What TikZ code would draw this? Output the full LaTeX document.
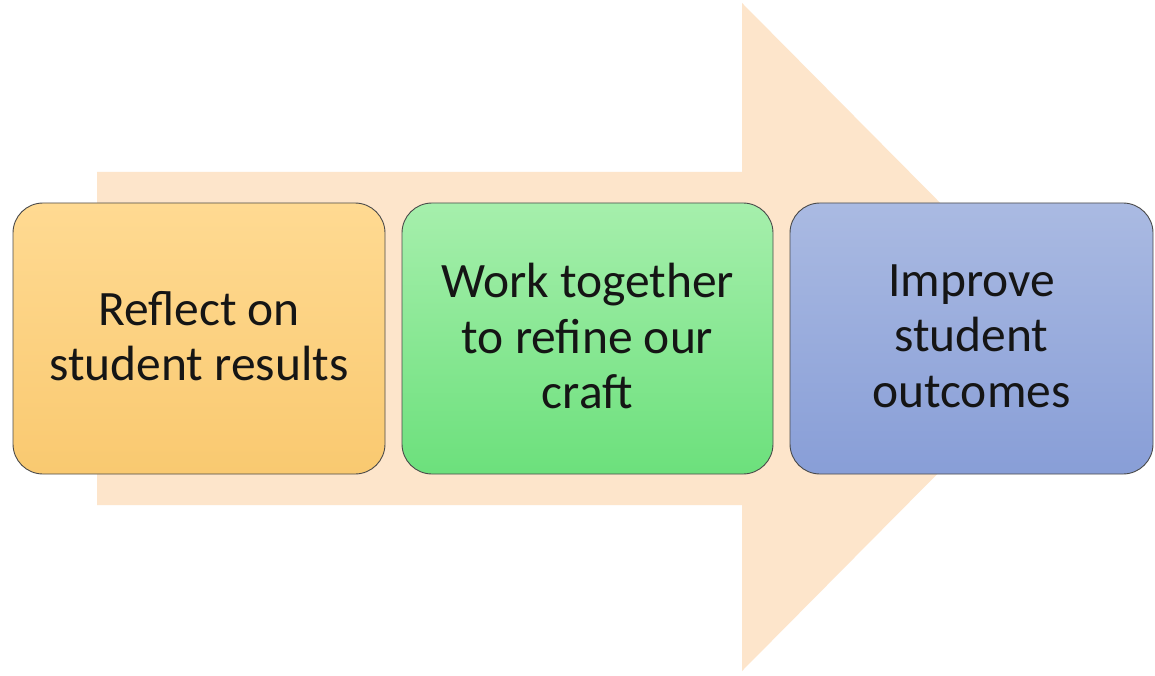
\documentclass[tikz,border=0pt]{standalone}
\usepackage{fontspec}
\setmainfont{Carlito}
\definecolor{arrowfill}{HTML}{FDE5CB}
\definecolor{orangetop}{HTML}{FFDA92}
\definecolor{orangebot}{HTML}{F9C970}
\definecolor{greentop}{HTML}{A6EFAC}
\definecolor{greenbot}{HTML}{6CE07C}
\definecolor{bluetop}{HTML}{AABAE2}
\definecolor{bluebot}{HTML}{889ED7}
\definecolor{edgegray}{HTML}{4A4A4A}
\definecolor{txt}{HTML}{151515}
\newcommand{\lowfix}{\rule[-5pt]{0pt}{5pt}}
\tikzset{
  stagebox/.style={draw=edgegray, line width=0.9pt, rounded corners=30pt,
    inner sep=0pt, align=center, text=txt,
    font=\fontsize{49.5}{55.5}\selectfont},
  bigarrow/.style={fill=arrowfill, draw=none}
}
\begin{document}
\begin{tikzpicture}[x=1pt,y=-1pt]
\useasboundingbox (0,0) rectangle (1155,676);
\fill[white] (0,0) rectangle (1155,676);
% big background arrow
\coordinate (a1) at (97,172);
\coordinate (a2) at (742,172);
\coordinate (a3) at (742,3);
\coordinate (tip) at (1073,337);
\coordinate (a4) at (742,671);
\coordinate (a5) at (742,505);
\coordinate (a6) at (97,505);
\path[bigarrow] (a1) -- (a2) -- (a3) -- (tip) -- (a4) -- (a5) -- (a6) -- cycle;
% stage boxes
\node[stagebox, top color=orangetop, bottom color=orangebot,
  minimum width=372pt, minimum height=271pt] (b1) at (199,338.5)
  {Reflect on\\student results\lowfix};
\node[stagebox, top color=greentop, bottom color=greenbot,
  minimum width=371pt, minimum height=271pt] (b2) at (587.5,338.5)
  {Work together\\to refine our\\craft\lowfix};
\node[stagebox, top color=bluetop, bottom color=bluebot,
  minimum width=363pt, minimum height=271pt] (b3) at (971.5,338.5)
  {Improve\\student\\outcomes\lowfix};
\end{tikzpicture}
\end{document}
